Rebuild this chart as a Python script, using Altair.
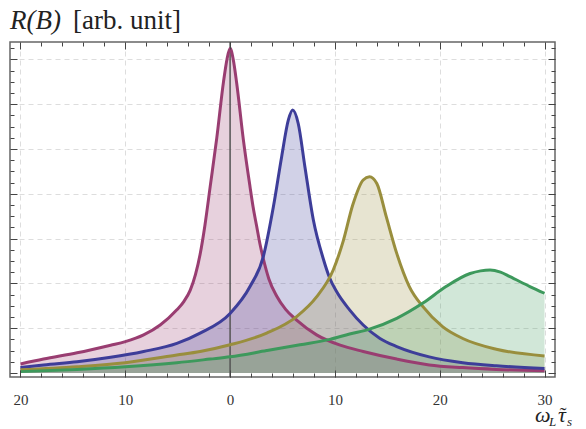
import altair as alt
import pandas as pd

# ---- data ----
series_names = ["s1", "s2", "s3", "s4"]
series_colors = ["#993D71", "#3D3D99", "#998E3D", "#3D995C"]

x_s1 = [-20, -17.8, -14.6, -11.4, -10, -8.25, -6.67, -5.08, -4.4, -3.8, -3.3, -2.86, -2.4, -1.9, -1.27, -0.63,
        -0.3, 0, 0.3, 0.63, 1.27, 1.9, 2.2, 2.54, 2.85, 3.17, 3.7, 4.44, 5.3, 6.35, 8.25, 10.5, 12.7, 15.9,
        19.0, 22.2, 25.4, 30]
y_s1 = [0.20, 0.31, 0.45, 0.62, 0.70, 0.85, 1.07, 1.41, 1.6, 1.85, 2.2, 2.65, 3.3, 4.16, 5.25, 6.5,
        7.0, 7.25, 7.0, 6.47, 5.2, 4.16, 3.7, 3.27, 2.88, 2.55, 2.1, 1.72, 1.42, 1.18, 0.85, 0.62, 0.48, 0.31,
        0.18, 0.12, 0.08, 0.05]

x_s2 = [-20, -17.8, -14.6, -11.4, -8.25, -5.08, -2.86, 0, 1.9, 3.17, 4.13, 4.92, 5.56, 5.97, 6.5, 7.14,
        7.94, 8.89, 9.5, 10.2, 11.4, 12.7, 14.3, 15.9, 19.0, 22.2, 25.4, 30]
y_s2 = [0.12, 0.18, 0.25, 0.35, 0.48, 0.66, 0.89, 1.33, 1.93, 2.6, 3.71, 4.83, 5.65, 5.87, 5.57, 4.6,
        3.42, 2.55, 2.12, 1.8, 1.41, 1.07, 0.77, 0.59, 0.36, 0.23, 0.16, 0.10]

x_s3 = [-20, -14.6, -10, -5.08, -2.86, 0, 3.49, 6.35, 8.25, 9.84, 10.8, 11.7, 12.7, 13.3, 14.0, 14.9,
        15.9, 17.1, 18.4, 20.3, 22.2, 25.4, 30]
y_s3 = [0.07, 0.14, 0.23, 0.40, 0.48, 0.63, 0.89, 1.26, 1.70, 2.30, 2.95, 3.75, 4.31, 4.38, 4.23, 3.49,
        2.67, 1.93, 1.48, 1.03, 0.77, 0.53, 0.38]

x_s4 = [-20, -14.6, -10, -5.08, -1.9, 0, 3.49, 6.67, 9.52, 11.4, 13.3, 15.9, 18.4, 20.6, 22.9, 23.9, 24.8,
        25.8, 26.7, 28.6, 30]
y_s4 = [0.03, 0.08, 0.14, 0.23, 0.31, 0.36, 0.50, 0.63, 0.75, 0.87, 0.98, 1.22, 1.56, 1.93, 2.22, 2.28, 2.30,
        2.25, 2.15, 1.93, 1.78]

x_major = [-20, -10, 0, 10, 20, 30]
x_minor = list(range(-20, 31, 2))
y_major = [0, 1, 2, 3, 4, 5, 6, 7]
y_minor = [i * 0.25 for i in range(0, 30)]
x_grid = [-20, -10, 10, 20, 30]
y_grid = [1, 2, 3, 4, 5, 6, 7]

title_main = "R(B)"
title_unit = "[arb. unit]"
xlabel_parts = ["ω", "L", "τ", "˜", "s"]

# ---- build table ----
rows = []
for name, xs, ys in [("s1", x_s1, y_s1), ("s2", x_s2, y_s2), ("s3", x_s3, y_s3), ("s4", x_s4, y_s4)]:
    for i, (xv, yv) in enumerate(zip(xs, ys)):
        rows.append({"s": name, "x": xv, "y": yv, "i": i})
df = pd.DataFrame(rows)

W, H = 545, 335
FONT = "Liberation Serif"
xscale = alt.Scale(domain=[-21, 31], nice=False, zero=False)
yscale = alt.Scale(domain=[-0.09, 7.39], nice=False, zero=False)
color = alt.Color("s:N", scale=alt.Scale(domain=series_names, range=series_colors), legend=None)


def tick_axis(orient, values, size, labels=False):
    kw = dict(orient=orient, values=values, tickSize=size, offset=-size, domain=False,
              grid=False, tickColor="#444", tickWidth=1, title=None, zindex=2, labels=labels)
    if labels:
        kw.update(labelFont=FONT, labelFontSize=15, labelColor="#333", labelPadding=15,
                  labelExpr="format(abs(datum.value), 'd')", labelFlush=False)
    return alt.Axis(**kw)


def grid_axis(orient, values):
    return alt.Axis(orient=orient, values=values, grid=True, gridDash=[5, 4], gridColor="#dddddd",
                    gridWidth=1, ticks=False, labels=False, domain=False, title=None, zindex=0)


base = alt.Chart(df)

grid_layer = base.mark_point(opacity=0).encode(
    x=alt.X("x:Q", scale=xscale, axis=grid_axis("bottom", x_grid)),
    y=alt.Y("y:Q", scale=yscale, axis=grid_axis("left", y_grid)),
)

areas = base.mark_area(fillOpacity=0.24, interpolate="monotone").encode(
    x=alt.X("x:Q", scale=xscale, axis=tick_axis("bottom", x_major, 7, labels=True)),
    y=alt.Y("y:Q", scale=yscale, stack=None, axis=tick_axis("left", y_major, 7)),
    color=color,
)

zero_rule = alt.Chart(pd.DataFrame({"x0": [0]})).mark_rule(color="#555", strokeWidth=1.5).encode(
    x=alt.X("x0:Q", scale=xscale, axis=None),
)

lines = base.mark_line(strokeWidth=3, interpolate="monotone").encode(
    x=alt.X("x:Q", scale=xscale, axis=tick_axis("bottom", x_minor, 4)),
    y=alt.Y("y:Q", scale=yscale, axis=tick_axis("left", y_minor, 4)),
    color=color,
    order="i:Q",
)

top_major = base.mark_point(opacity=0).encode(
    x=alt.X("x:Q", scale=xscale, axis=tick_axis("top", x_major, 7)),
    y=alt.Y("y:Q", scale=yscale, axis=tick_axis("right", y_major, 7)),
)
top_minor = base.mark_point(opacity=0).encode(
    x=alt.X("x:Q", scale=xscale, axis=tick_axis("top", x_minor, 4)),
    y=alt.Y("y:Q", scale=yscale, axis=tick_axis("right", y_minor, 4)),
)


def label(text, px, py, size, italic, align="left"):
    return alt.Chart(pd.DataFrame({"t": [text]})).mark_text(
        font=FONT, fontSize=size, fontStyle="italic" if italic else "normal",
        align=align, baseline="alphabetic", color="#222",
    ).encode(text="t:N", x=alt.value(px), y=alt.value(py))


texts = [
    label(title_main, 0, -13, 27, True),
    label(title_unit, 63, -13, 27, False),
    label(xlabel_parts[0], 525, 380, 22, True),
    label(xlabel_parts[1], 539, 384, 13, True),
    label(xlabel_parts[2], 552, 380, 22, True, align="center"),
    label(xlabel_parts[3], 553, 380, 20, False, align="center"),
    label(xlabel_parts[4], 557, 384, 13, True),
]

chart = alt.layer(grid_layer, areas, zero_rule, lines, top_major, top_minor, *texts).resolve_axis(
    x="independent", y="independent"
).properties(
    width=W, height=H,
    autosize=alt.AutoSizeParams(type="none"),
    padding={"left": 10, "top": 42, "right": 31, "bottom": 52},
).configure_view(stroke="#666", strokeWidth=1.5)

chart.save("out.html", embed_options={"renderer": "svg", "actions": False})
